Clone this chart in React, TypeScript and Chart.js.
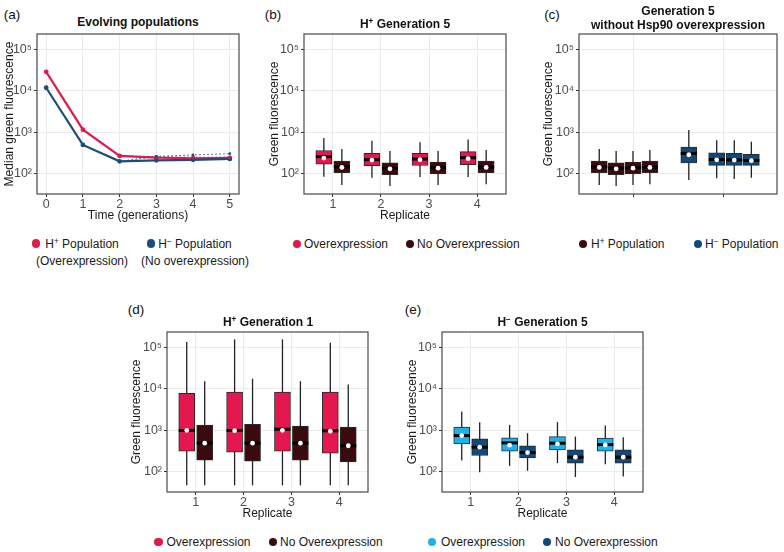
import React, { useEffect, useRef } from 'react';
import { Chart, registerables } from 'chart.js';
Chart.register(...registerables);

const FONT = "'Liberation Sans', Arial, Helvetica, sans-serif";

// ---------- data ----------
// (a) evolving populations
const generations = [0, 1, 2, 3, 4, 5];
const hPlusMedian = [28500, 1157, 270, 246, 237, 242];
const hMinusMedian = [11800, 497, 200, 212, 217, 229];
const replicateGenerations = [2, 3, 4, 5];
const hPlusReplicateMedian = [270, 258, 250, 252];
const hMinusReplicateMedian = [200, 262, 286, 305];

// boxplots: each row = [min, q1, median, q3, max, mean]
const replicates = [1, 2, 3, 4];
const populations = [1, 2];

const bOver = [
  [85, 171, 260, 364, 727, 240],
  [80, 157, 219, 312, 624, 215],
  [84, 159, 227, 312, 579, 219],
  [84, 166, 245, 344, 675, 232],
];
const bNoOver = [
  [54, 106, 148, 203, 398, 143],
  [51, 96, 137, 185, 356, 132],
  [54, 100, 140, 192, 356, 137],
  [56, 106, 145, 203, 376, 143],
];
const cHPlus = [
  [54, 106, 148, 203, 398, 143],
  [51, 96, 137, 185, 356, 132],
  [54, 100, 140, 192, 356, 137],
  [56, 106, 145, 203, 376, 143],
];
const cHMinus = [
  [71, 183, 310, 443, 1136, 288],
  [78, 160, 221, 322, 645, 218],
  [75, 160, 217, 310, 645, 215],
  [81, 160, 209, 293, 590, 207],
];
const dOver = [
  [47.5, 313, 990, 7700, 132800, 1000],
  [47.5, 297, 990, 8270, 154000, 980],
  [47.5, 313, 1064, 8270, 154000, 1000],
  [47.5, 281, 973, 8270, 128000, 950],
];
const dNoOver = [
  [47.5, 190, 489, 1330, 15200, 489],
  [47.5, 180, 489, 1400, 17400, 489],
  [47.5, 190, 489, 1256, 15200, 489],
  [47.5, 174, 424, 1190, 12700, 424],
];
const eOver = [
  [187, 471, 747, 1190, 2820, 747],
  [139, 315, 497, 656, 1350, 438],
  [162, 338, 489, 706, 1567, 470],
  [153, 315, 453, 646, 1297, 445],
];
const eNoOver = [
  [98, 247, 393, 621, 1567, 393],
  [106, 217, 291, 421, 851, 291],
  [75, 162, 225, 338, 706, 225],
  [77, 162, 225, 338, 683, 225],
];

const yTickValues = [100, 1000, 10000, 100000];
const yTickLabels = ['10²', '10³', '10⁴', '10⁵'];

// ---------- style / layout ----------
const PINK = '#E5174F';
const MAROON = '#3B0A0E';
const DBLUE = '#0F4A7B';
const LBLUE = '#1DB2EC';
const RED_LINE = '#E11A4F';
const BLUE_LINE = '#1D4E7B';
const GRID = '#EBEBEB';
const Y_MIN = Math.pow(10, 1.515);
const Y_MAX = Math.pow(10, 5.365);
const PAD = 4;
const XH = 30;
const DODGE2 = [-0.1875, 0.1875];
const C_OFF_H1 = [-0.375, -0.1875, 0, 0.1875];
const C_OFF_H2 = [-0.38, -0.07, 0.125, 0.315];
const TICK_SIZE = 12.5;
const AXIS_TITLE_SIZE = 12;

type Geo = { L: number; T: number; R: number; B: number; W: number };
const rectOf = (g: Geo) => ({
  left: g.L - g.W,
  top: g.T - PAD,
  width: g.W + (g.R - g.L) + PAD,
  height: PAD + (g.B - g.T) + XH,
});

const geoA: Geo = { L: 37, T: 34, R: 239, B: 194, W: 37 };
const geoB: Geo = { L: 304, T: 34, R: 506, B: 194, W: 39 };
const geoC: Geo = { L: 579, T: 34, R: 777, B: 194, W: 40 };
const geoD: Geo = { L: 167, T: 332, R: 368, B: 492, W: 40 };
const geoE: Geo = { L: 442, T: 332, R: 643, B: 492, W: 39 };

const framePlugin = {
  id: 'frame',
  afterDraw(chart: any) {
    const { ctx, chartArea: a } = chart;
    ctx.save();
    ctx.strokeStyle = '#4a4a4a';
    ctx.lineWidth = 1.2;
    ctx.strokeRect(a.left, a.top, a.right - a.left, a.bottom - a.top);
    ctx.restore();
  },
};

const boxPlugin = {
  id: 'boxDecor',
  beforeDatasetsDraw(chart: any) {
    const ctx = chart.ctx;
    const y = chart.scales.y;
    chart.data.datasets.forEach((ds: any, i: number) => {
      if (!ds.stats) return;
      const meta = chart.getDatasetMeta(i);
      ds.stats.forEach((s: number[], j: number) => {
        const el = meta.data[j];
        if (!el) return;
        const { x } = el.getProps(['x'], true);
        ctx.save();
        ctx.strokeStyle = '#222';
        ctx.lineWidth = 1.3;
        ctx.beginPath();
        ctx.moveTo(x, y.getPixelForValue(s[0]));
        ctx.lineTo(x, y.getPixelForValue(s[4]));
        ctx.stroke();
        ctx.restore();
      });
    });
  },
  afterDatasetsDraw(chart: any) {
    const ctx = chart.ctx;
    const y = chart.scales.y;
    chart.data.datasets.forEach((ds: any, i: number) => {
      if (!ds.stats) return;
      const meta = chart.getDatasetMeta(i);
      ds.stats.forEach((s: number[], j: number) => {
        const el = meta.data[j];
        if (!el) return;
        const { x, width } = el.getProps(['x', 'width'], true);
        const my = y.getPixelForValue(s[2]);
        ctx.save();
        ctx.fillStyle = '#000';
        ctx.fillRect(x - width / 2, my - 1.5, width, 3);
        ctx.beginPath();
        ctx.fillStyle = '#fff';
        ctx.arc(x, y.getPixelForValue(s[5]), 2.4, 0, Math.PI * 2);
        ctx.fill();
        ctx.restore();
      });
    });
  },
};

function zeroPad(ax: any) {
  ax.paddingLeft = 0;
  ax.paddingRight = 0;
  ax.paddingTop = 0;
  ax.paddingBottom = 0;
}

function makeScales(g: Geo, xMin: number, xMax: number, xTicks: number[], xTitle: string, yTitle: string, showXLabels: boolean) {
  return {
    x: {
      type: 'linear',
      min: xMin,
      max: xMax,
      offset: false,
      afterBuildTicks: (ax: any) => {
        ax.ticks = xTicks.map((v) => ({ value: v }));
      },
      afterFit: (ax: any) => {
        ax.height = XH;
        zeroPad(ax);
      },
      grid: { color: GRID, lineWidth: 1, offset: false, drawTicks: true, tickLength: 3, tickColor: '#333', tickWidth: 1 },
      border: { display: false },
      ticks: {
        font: { family: FONT, size: TICK_SIZE },
        color: '#4D4D4D',
        padding: 0,
        maxRotation: 0,
        autoSkip: false,
        callback: (v: any) => (showXLabels ? String(v) : ''),
      },
      title: {
        display: !!xTitle,
        text: xTitle,
        font: { family: FONT, size: AXIS_TITLE_SIZE },
        color: '#1a1a1a',
        padding: { top: 0, bottom: 1 },
      },
    },
    y: {
      type: 'logarithmic',
      min: Y_MIN,
      max: Y_MAX,
      afterBuildTicks: (ax: any) => {
        ax.ticks = yTickValues.map((v) => ({ value: v }));
      },
      afterFit: (ax: any) => {
        ax.width = g.W;
        zeroPad(ax);
      },
      grid: { color: GRID, lineWidth: 1, drawTicks: true, tickLength: 3, tickColor: '#333', tickWidth: 1 },
      border: { display: false },
      ticks: {
        font: { family: FONT, size: TICK_SIZE },
        color: '#4D4D4D',
        padding: 2,
        autoSkip: false,
        callback: (v: any) => {
          const k = yTickValues.indexOf(Number(v));
          return k >= 0 ? yTickLabels[k] : '';
        },
      },
      title: {
        display: true,
        text: yTitle,
        font: { family: FONT, size: AXIS_TITLE_SIZE },
        color: '#1a1a1a',
        padding: { top: 2.5, bottom: 0 },
      },
    },
  };
}

function baseOptions(scales: any) {
  return {
    responsive: false,
    maintainAspectRatio: false,
    animation: false,
    events: [],
    layout: { padding: { left: 0, top: PAD, right: PAD, bottom: 0 } },
    plugins: { legend: { display: false }, tooltip: { enabled: false }, title: { display: false } },
    scales,
  };
}

type Series = { label: string; color: string; rows: number[][]; xs: number[]; thickness: number };

function boxConfig(g: Geo, series: Series[], xMin: number, xMax: number, xTicks: number[], xTitle: string, showXLabels: boolean) {
  return {
    type: 'bar',
    data: {
      datasets: series.map((s) => ({
        label: s.label,
        data: s.rows.map((r, k) => ({ x: s.xs[k], y: [r[1], r[3]] })),
        stats: s.rows,
        backgroundColor: s.color,
        borderColor: '#2a2a2a',
        borderWidth: 1,
        borderSkipped: false,
        grouped: false,
        barThickness: s.thickness,
      })),
    },
    options: baseOptions(makeScales(g, xMin, xMax, xTicks, xTitle, 'Green fluorescence', showXLabels)),
    plugins: [boxPlugin, framePlugin],
  };
}

const configA = {
  type: 'line',
  data: {
    datasets: [
      {
        label: 'H− replicate',
        data: replicateGenerations.map((g, i) => ({ x: g, y: hMinusReplicateMedian[i] })),
        borderColor: BLUE_LINE,
        backgroundColor: BLUE_LINE,
        borderWidth: 1,
        borderDash: [1.5, 2.5],
        pointRadius: 1.4,
        pointBorderWidth: 0,
      },
      {
        label: 'H+ replicate',
        data: replicateGenerations.map((g, i) => ({ x: g, y: hPlusReplicateMedian[i] })),
        borderColor: RED_LINE,
        backgroundColor: RED_LINE,
        borderWidth: 1,
        borderDash: [1.5, 2.5],
        pointRadius: 1.4,
        pointBorderWidth: 0,
      },
      {
        label: 'H− Population (No overexpression)',
        data: generations.map((g, i) => ({ x: g, y: hMinusMedian[i] })),
        borderColor: BLUE_LINE,
        backgroundColor: BLUE_LINE,
        borderWidth: 2.2,
        pointRadius: 2.4,
        pointBorderWidth: 0,
      },
      {
        label: 'H+ Population (Overexpression)',
        data: generations.map((g, i) => ({ x: g, y: hPlusMedian[i] })),
        borderColor: RED_LINE,
        backgroundColor: RED_LINE,
        borderWidth: 2.2,
        pointRadius: 2.4,
        pointBorderWidth: 0,
      },
    ],
  },
  options: baseOptions(makeScales(geoA, -0.25, 5.25, generations, 'Time (generations)', 'Median green fluorescence', true)),
  plugins: [framePlugin],
};

const configB = boxConfig(
  geoB,
  [
    { label: 'Overexpression', color: PINK, rows: bOver, xs: replicates.map((r) => r + DODGE2[0]), thickness: 16 },
    { label: 'No Overexpression', color: MAROON, rows: bNoOver, xs: replicates.map((r) => r + DODGE2[1]), thickness: 16 },
  ],
  0.4, 4.6, replicates, 'Replicate', true
);

const configC = boxConfig(
  geoC,
  [
    { label: 'H+ Population', color: MAROON, rows: cHPlus, xs: C_OFF_H1.map((o) => populations[0] + o), thickness: 16 },
    { label: 'H− Population', color: DBLUE, rows: cHMinus, xs: C_OFF_H2.map((o) => populations[1] + o), thickness: 16 },
  ],
  0.4, 2.6, populations, '', false
);

const configD = boxConfig(
  geoD,
  [
    { label: 'Overexpression', color: PINK, rows: dOver, xs: replicates.map((r) => r + DODGE2[0]), thickness: 16 },
    { label: 'No Overexpression', color: MAROON, rows: dNoOver, xs: replicates.map((r) => r + DODGE2[1]), thickness: 16 },
  ],
  0.4, 4.6, replicates, 'Replicate', true
);

const configE = boxConfig(
  geoE,
  [
    { label: 'Overexpression', color: LBLUE, rows: eOver, xs: replicates.map((r) => r + DODGE2[0]), thickness: 16 },
    { label: 'No Overexpression', color: DBLUE, rows: eNoOver, xs: replicates.map((r) => r + DODGE2[1]), thickness: 16 },
  ],
  0.4, 4.6, replicates, 'Replicate', true
);

function ChartBox({ geo, config }: { geo: Geo; config: any }) {
  const ref = useRef<HTMLCanvasElement>(null);
  const r = rectOf(geo);
  useEffect(() => {
    const chart = new Chart(ref.current as HTMLCanvasElement, config);
    return () => chart.destroy();
  }, []);
  return (
    <canvas
      ref={ref}
      width={r.width}
      height={r.height}
      style={{ position: 'absolute', left: r.left, top: r.top, width: r.width, height: r.height }}
    />
  );
}

function Txt({ x, y, children, style, anchor = 'middle' }: any) {
  return (
    <div
      style={{
        position: 'absolute',
        left: x,
        top: y,
        transform: anchor === 'middle' ? 'translate(-50%,-50%)' : 'translate(0,-50%)',
        whiteSpace: 'nowrap',
        lineHeight: 1.2,
        ...style,
      }}
    >
      {children}
    </div>
  );
}

const Sup = ({ c }: { c: string }) => (
  <span style={{ fontSize: '0.68em', verticalAlign: '0.45em', lineHeight: 0 }}>{c}</span>
);

function Dot({ x, y, color }: any) {
  return (
    <div
      style={{
        position: 'absolute',
        left: x - 4.3,
        top: y - 4.3,
        width: 8.6,
        height: 8.6,
        borderRadius: '50%',
        background: color,
      }}
    />
  );
}

function LegendItem({ dx, tx, y, color, children }: any) {
  return (
    <>
      <Dot x={dx} y={y} color={color} />
      <Txt x={tx} y={y} anchor="left" style={{ fontSize: 12, color: '#1a1a1a' }}>
        {children}
      </Txt>
    </>
  );
}

const titleStyle = { fontSize: 12, fontWeight: 'bold' as const, color: '#111' };
const labelStyle = { fontSize: 13.5, color: '#111' };

export default function App() {
  return (
    <div
      style={{
        position: 'absolute',
        left: 0,
        top: 0,
        width: 784,
        height: 552,
        background: '#fff',
        fontFamily: FONT,
        overflow: 'hidden',
      }}
    >
      <ChartBox geo={geoA} config={configA} />
      <ChartBox geo={geoB} config={configB} />
      <ChartBox geo={geoC} config={configC} />
      <ChartBox geo={geoD} config={configD} />
      <ChartBox geo={geoE} config={configE} />

      {/* panel labels */}
      <Txt x={12} y={15} style={labelStyle}>(a)</Txt>
      <Txt x={273} y={15} style={labelStyle}>(b)</Txt>
      <Txt x={552} y={15} style={labelStyle}>(c)</Txt>
      <Txt x={136} y={310} style={labelStyle}>(d)</Txt>
      <Txt x={413} y={310} style={labelStyle}>(e)</Txt>

      {/* titles */}
      <Txt x={138} y={22} style={titleStyle}>Evolving populations</Txt>
      <Txt x={405} y={24} style={titleStyle}>
        H<Sup c="+" /> Generation 5
      </Txt>
      <Txt x={678} y={11} style={titleStyle}>Generation 5</Txt>
      <Txt x={678} y={25} style={titleStyle}>without Hsp90 overexpression</Txt>
      <Txt x={268} y={322} style={titleStyle}>
        H<Sup c="+" /> Generation 1
      </Txt>
      <Txt x={542.5} y={322} style={titleStyle}>
        H<Sup c="−" /> Generation 5
      </Txt>

      {/* legend (a) */}
      <Dot x={36} y={243.5} color={RED_LINE} />
      <Txt x={82} y={252} style={{ fontSize: 12, color: '#1a1a1a', textAlign: 'center', lineHeight: '16.5px' }}>
        <div>
          H<Sup c="+" /> Population
        </div>
        <div>(Overexpression)</div>
      </Txt>
      <Dot x={151} y={243.5} color={BLUE_LINE} />
      <Txt x={195} y={252} style={{ fontSize: 12, color: '#1a1a1a', textAlign: 'center', lineHeight: '16.5px' }}>
        <div>
          H<Sup c="−" /> Population
        </div>
        <div>(No overexpression)</div>
      </Txt>

      {/* legend (b) */}
      <LegendItem dx={297} tx={304} y={244} color={PINK}>Overexpression</LegendItem>
      <LegendItem dx={410} tx={417} y={244} color={MAROON}>No Overexpression</LegendItem>

      {/* legend (c) */}
      <LegendItem dx={583} tx={591} y={244} color={MAROON}>
        H<Sup c="+" /> Population
      </LegendItem>
      <LegendItem dx={698} tx={705} y={244} color={DBLUE}>
        H<Sup c="−" /> Population
      </LegendItem>

      {/* legend (d) */}
      <LegendItem dx={158.5} tx={166.5} y={542} color={PINK}>Overexpression</LegendItem>
      <LegendItem dx={273} tx={280} y={542} color={MAROON}>No Overexpression</LegendItem>

      {/* legend (e) */}
      <LegendItem dx={432} tx={441} y={542} color={LBLUE}>Overexpression</LegendItem>
      <LegendItem dx={547} tx={555} y={542} color={DBLUE}>No Overexpression</LegendItem>
    </div>
  );
}
